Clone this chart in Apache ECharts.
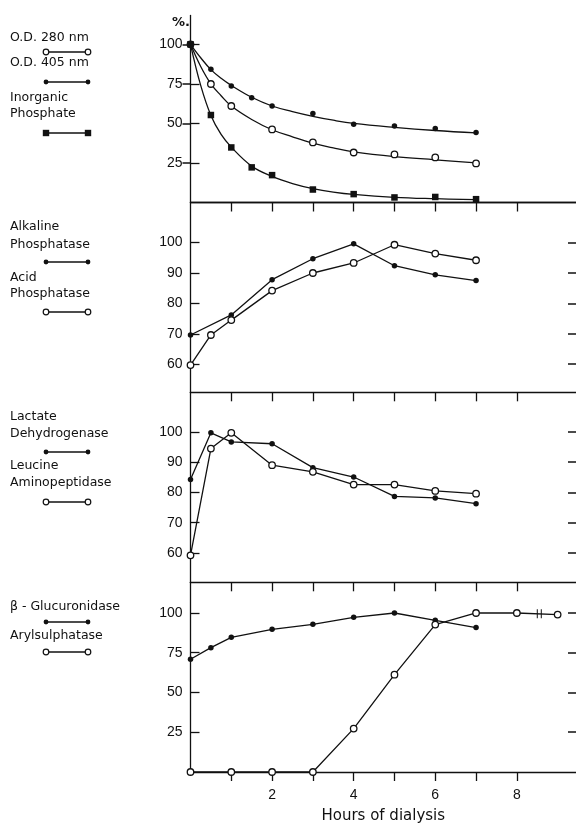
<!DOCTYPE html>
<html>
<head>
<meta charset="utf-8">
<script src="https://cdn.jsdelivr.net/npm/echarts@6/dist/echarts.min.js"></script>
<style>
html,body{margin:0;padding:0;background:#fff;}
#chart{width:576px;height:825px;}
</style>
</head>
<body>
<div id="chart"></div>
<script>
// ---------- DATA ----------
// Panel 1: O.D. 280 nm, O.D. 405 nm, inorganic phosphate (%)
const p1HoursA = [0, 0.5, 1, 1.5, 2, 3, 4, 5, 6, 7];
const p1HoursB = [0, 0.5, 1, 2, 3, 4, 5, 6, 7];
const od405 = [100, 84.2, 73.6, 66.2, 61, 56.3, 49.4, 48.3, 46.8, 44.3];
const od280 = [100, 74.9, 61, 46.2, 38, 31.6, 30.4, 28.5, 24.7];
const phosphate = [100, 55.3, 34.8, 22.2, 17.3, 8.2, 5.3, 3.2, 3.5, 2.1];
// fitted curves as drawn in panel 1
const curveHours = [0, 0.25, 0.5, 0.75, 1, 1.5, 2, 2.5, 3, 3.5, 4, 5, 6, 7];
const od405Curve = [100, 91.5, 84, 78.5, 74, 66.5, 61, 57.5, 54.5, 52, 50, 47.5, 45.5, 44];
const od280Curve = [100, 86, 75, 67.5, 61, 52.5, 46, 41.5, 37.5, 34.5, 32, 29, 27, 25];
const phosphateCurve = [100, 74, 55, 43, 35, 23, 16.5, 12, 8.8, 6.6, 5.1, 3.3, 2.4, 1.8];

// Panel 2: alkaline / acid phosphatase
const alkHours = [0, 1, 2, 3, 4, 5, 6, 7];
const alkaline = [69.6, 76.2, 87.8, 94.7, 99.6, 92.4, 89.4, 87.5];
const acidHours = [0, 0.5, 1, 2, 3, 4, 5, 6, 7];
const acid = [59.7, 69.6, 74.5, 84.2, 90, 93.3, 99.3, 96.4, 94.2];

// Panel 3: lactate dehydrogenase / leucine aminopeptidase
const p3Hours = [0, 0.5, 1, 2, 3, 4, 5, 6, 7];
const ldh = [84.3, 99.7, 96.7, 96.1, 88.2, 85.1, 78.7, 78.2, 76.3];
const lap = [59.2, 94.5, 99.7, 89, 86.8, 82.6, 82.6, 80.5, 79.6];

// Panel 4: beta-glucuronidase / arylsulphatase
const glucHours = [0, 0.5, 1, 2, 3, 4, 5, 6, 7];
const glucuronidase = [70.9, 78.2, 84.7, 89.7, 92.9, 97.3, 100, 95.4, 90.8];
const arylHours = [0, 1, 2, 3, 4, 5, 6, 7, 8, 9];
const arylsulphatase = [0, 0, 0, 0, 27.3, 61.2, 92.7, 100, 100, 99];
const axisBreakAt = [8.55, 99.5];

// Tick values
const xTicks = [1, 2, 3, 4, 5, 6, 7, 8];
const xLabels = [2, 4, 6, 8];
const yTicksPct = [25, 50, 75, 100];
const yTicksAct = [60, 70, 80, 90, 100];
const yRanges = [[0, 118.2], [50.74, 113.2], [50.3, 113.1], [0, 119.3]];
const xRange = [0, 9.45];

// ---------- BUILD ----------
const INK = '#111';
const pair = (xs, ys) => xs.map((x, i) => [x, ys[i]]);

const gridBounds = [[15.5, 202.5], [202.5, 392.3], [392.3, 582.3], [582.3, 772.5]];
const grids = gridBounds.map(b => ({ left: 190.5, right: 0, top: b[0], height: b[1] - b[0] }));

const xAxes = [];
const yAxes = [];
grids.forEach((g, i) => {
  xAxes.push({
    type: 'value', gridIndex: i, min: xRange[0], max: xRange[1], position: 'bottom',
    axisLine: { show: true, lineStyle: { color: INK, width: 1.3 } },
    axisTick: { show: true, inside: false, length: 9, customValues: xTicks, lineStyle: { color: INK, width: 1.3 } },
    axisLabel: i === 3 ? { show: true, customValues: xLabels, margin: 16, color: INK, fontFamily: 'Liberation Sans', fontSize: 14 } : { show: false },
    splitLine: { show: false },
    name: i === 3 ? 'Hours of dialysis' : '',
    nameLocation: 'middle', nameGap: 37,
    nameTextStyle: { color: INK, fontFamily: 'DejaVu Sans', fontSize: 15 }
  });
  const ticks = (i === 0 || i === 3) ? yTicksPct : yTicksAct;
  yAxes.push({
    type: 'value', gridIndex: i, min: yRanges[i][0], max: yRanges[i][1], position: 'left',
    axisLine: { show: true, lineStyle: { color: INK, width: 1.3 } },
    axisTick: { show: true, inside: true, length: 9, customValues: ticks, lineStyle: { color: INK, width: 1.3 } },
    axisLabel: { show: true, customValues: ticks, margin: 8, color: INK, fontFamily: 'Liberation Sans', fontSize: 14 },
    splitLine: { show: false }
  });
  yAxes.push({
    type: 'value', gridIndex: i, min: yRanges[i][0], max: yRanges[i][1], position: 'right',
    axisLine: { show: false },
    axisTick: { show: true, inside: true, length: 8, customValues: ticks, lineStyle: { color: INK, width: 1.5 } },
    axisLabel: { show: false },
    splitLine: { show: false }
  });
});
// top border of first panel
xAxes.push({
  type: 'value', gridIndex: 0, min: xRange[0], max: xRange[1], position: 'top',
  axisLine: { show: true, lineStyle: { color: INK, width: 1.3 } },
  axisTick: { show: false }, axisLabel: { show: false }, splitLine: { show: false }
});

const filled = { symbol: 'circle', symbolSize: 5.5, itemStyle: { color: INK, borderColor: INK, borderWidth: 0, opacity: 1 } };
const open = { symbol: 'circle', symbolSize: 6.5, itemStyle: { color: '#fff', borderColor: INK, borderWidth: 1.3, opacity: 1 } };
const square = { symbol: 'rect', symbolSize: 6.5, itemStyle: { color: INK, borderColor: INK, borderWidth: 0, opacity: 1 } };

function lineSeries(name, grid, data, sym, extra) {
  return Object.assign({
    name, type: 'line', xAxisIndex: grid, yAxisIndex: grid * 2, data,
    lineStyle: { color: INK, width: 1.3 }, showSymbol: true, animation: false, z: 3,
    clip: false
  }, sym, extra || {});
}
function curveSeries(name, data) {
  return {
    name, type: 'line', xAxisIndex: 0, yAxisIndex: 0, data, smooth: 0.4,
    showSymbol: false, symbol: 'none', lineStyle: { color: INK, width: 1.3 }, animation: false, z: 2
  };
}
function pointSeries(name, data, sym) {
  return Object.assign({
    name, type: 'scatter', xAxisIndex: 0, yAxisIndex: 0, data, animation: false, z: 4, clip: false
  }, sym);
}

const series = [
  curveSeries('O.D. 405 nm curve', pair(curveHours, od405Curve)),
  curveSeries('O.D. 280 nm curve', pair(curveHours, od280Curve)),
  curveSeries('Inorganic Phosphate curve', pair(curveHours, phosphateCurve)),
  pointSeries('O.D. 405 nm', pair(p1HoursA, od405), filled),
  pointSeries('O.D. 280 nm', pair(p1HoursB, od280), open),
  pointSeries('Inorganic Phosphate', pair(p1HoursA, phosphate), square),
  lineSeries('Alkaline Phosphatase', 1, pair(alkHours, alkaline), filled),
  lineSeries('Acid Phosphatase', 1, pair(acidHours, acid), open),
  lineSeries('Lactate Dehydrogenase', 2, pair(p3Hours, ldh), filled),
  lineSeries('Leucine Aminopeptidase', 2, pair(p3Hours, lap), open),
  lineSeries('β-Glucuronidase', 3, pair(glucHours, glucuronidase), filled),
  lineSeries('Arylsulphatase', 3, pair(arylHours, arylsulphatase), open, {
    markPoint: {
      silent: true, animation: false,
      symbol: 'path://M0,0 L1,0 L1,10 L0,10 Z M4,0 L5,0 L5,10 L4,10 Z',
      symbolSize: [5, 9], symbolKeepAspect: false,
      itemStyle: { color: INK },
      label: { show: false },
      data: [{ coord: axisBreakAt }]
    }
  })
];

// ---------- LEGEND (drawn as text + sample line) ----------
const legendFont = { fontFamily: 'DejaVu Sans', fontSize: 12.5, fill: INK };
const graphic = [];
function txt(s, y) {
  graphic.push({ type: 'text', left: 10, top: y - 8, style: Object.assign({ text: s }, legendFont) });
}
function sample(y, kind) {
  graphic.push({ type: 'line', shape: { x1: 46, y1: y, x2: 88, y2: y }, style: { stroke: INK, lineWidth: 1.3 } });
  [46, 88].forEach(x => {
    if (kind === 'open') graphic.push({ type: 'circle', shape: { cx: x, cy: y, r: 2.8 }, style: { fill: '#fff', stroke: INK, lineWidth: 1.2 } });
    else if (kind === 'filled') graphic.push({ type: 'circle', shape: { cx: x, cy: y, r: 2.4 }, style: { fill: INK } });
    else graphic.push({ type: 'rect', shape: { x: x - 3.2, y: y - 3.2, width: 6.4, height: 6.4 }, style: { fill: INK } });
  });
}
txt('O.D. 280 nm', 39); sample(52, 'open');
txt('O.D. 405 nm', 64); sample(82, 'filled');
txt('Inorganic', 99.5); txt('Phosphate', 115); sample(133, 'square');

txt('Alkaline', 228); txt('Phosphatase', 246); sample(262, 'filled');
txt('Acid', 279); txt('Phosphatase', 295.5); sample(312, 'open');

txt('Lactate', 418); txt('Dehydrogenase', 435); sample(452, 'filled');
txt('Leucine', 467); txt('Aminopeptidase', 484); sample(502, 'open');

txt('β - Glucuronidase', 608); sample(622, 'filled');
txt('Arylsulphatase', 637.5); sample(652, 'open');

graphic.push({ type: 'text', left: 172, top: 16, style: { text: '%.', fontFamily: 'DejaVu Sans', fontSize: 13, fontWeight: 'bold', fill: INK } });

const chart = echarts.init(document.getElementById('chart'), null, { renderer: 'canvas' });
chart.setOption({
  backgroundColor: '#fff',
  animation: false,
  grid: grids,
  xAxis: xAxes,
  yAxis: yAxes,
  series,
  graphic
});
</script>
</body>
</html>
